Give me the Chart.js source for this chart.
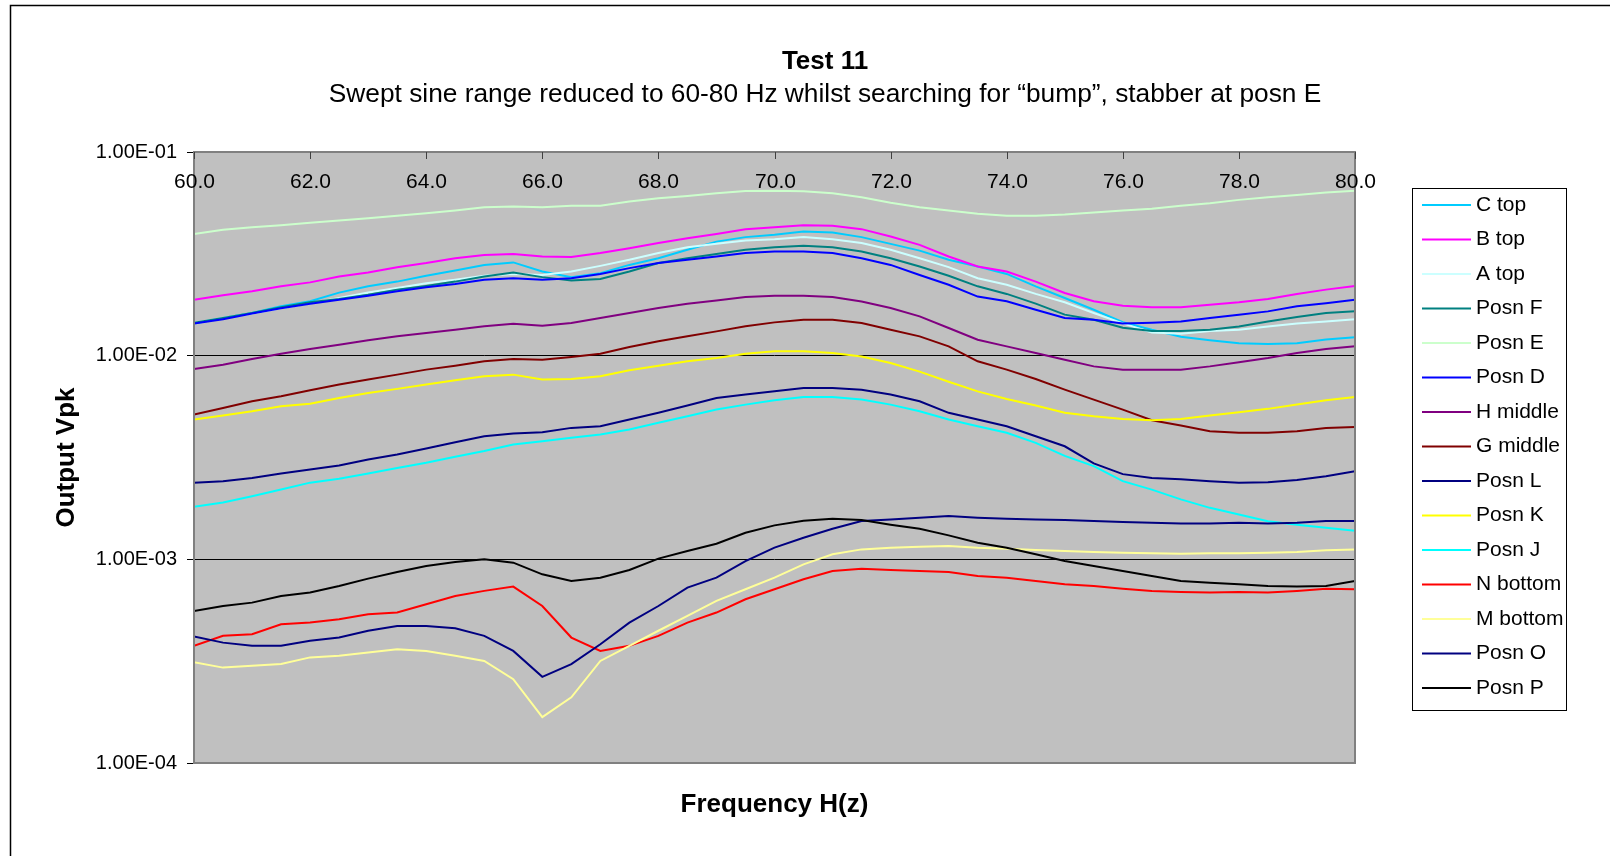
<!DOCTYPE html>
<html>
<head>
<meta charset="utf-8">
<title>Test 11</title>
<script src="https://cdn.jsdelivr.net/npm/chart.js@4.4.1/dist/chart.umd.min.js"></script>
<style>
  html, body { margin: 0; padding: 0; background: #fff; overflow: hidden; }
  #wrap { width: 1610px; height: 856px; }
</style>
</head>
<body>
<div id="wrap"><canvas id="testChart" width="1610" height="856"></canvas></div>
<script>
// Frequency points (Hz)
const freq = [60.0, 60.5, 61.0, 61.5, 62.0, 62.5, 63.0, 63.5, 64.0, 64.5, 65.0, 65.5, 66.0, 66.5, 67.0, 67.5, 68.0, 68.5, 69.0, 69.5, 70.0,
              70.5, 71.0, 71.5, 72.0, 72.5, 73.0, 73.5, 74.0, 74.5, 75.0, 75.5, 76.0, 76.5, 77.0, 77.5, 78.0, 78.5, 79.0, 79.5, 80.0];

// Output Vpk per position
const cTop = [0.0144, 0.0153, 0.0162, 0.0175, 0.0185, 0.0204, 0.0219, 0.0231, 0.0247, 0.0262, 0.0279, 0.0287, 0.0259, 0.0243, 0.0254, 0.0279, 0.0301, 0.0331, 0.0363, 0.0382, 0.0392,
              0.0407, 0.0402, 0.0382, 0.0354, 0.0328, 0.0296, 0.0274, 0.0252, 0.0219, 0.0192, 0.0168, 0.0146, 0.0134, 0.0124, 0.0119, 0.0115, 0.0114, 0.0115, 0.0120, 0.0123];
const bTop = [0.0188, 0.0198, 0.0207, 0.0219, 0.0229, 0.0245, 0.0256, 0.0272, 0.0285, 0.0301, 0.0312, 0.0316, 0.0307, 0.0305, 0.0319, 0.0337, 0.0357, 0.0377, 0.0396, 0.0418, 0.0427,
              0.0437, 0.0434, 0.0418, 0.0385, 0.0350, 0.0307, 0.0274, 0.0259, 0.0231, 0.0203, 0.0185, 0.0176, 0.0173, 0.0173, 0.0178, 0.0183, 0.0190, 0.0201, 0.0211, 0.0220];
const aTop = [0.0145, 0.0153, 0.0161, 0.0171, 0.0181, 0.0192, 0.0204, 0.0215, 0.0227, 0.0236, 0.0247, 0.0252, 0.0249, 0.0259, 0.0276, 0.0296, 0.0319, 0.0341, 0.0354, 0.0368, 0.0373,
              0.0382, 0.0373, 0.0357, 0.0331, 0.0301, 0.0272, 0.0240, 0.0223, 0.0201, 0.0183, 0.0162, 0.0144, 0.0130, 0.0128, 0.0132, 0.0134, 0.0139, 0.0144, 0.0147, 0.0151];
const posnF = [0.0145, 0.0153, 0.0162, 0.0173, 0.0183, 0.0190, 0.0199, 0.0211, 0.0220, 0.0231, 0.0245, 0.0256, 0.0243, 0.0234, 0.0238, 0.0259, 0.0285, 0.0301, 0.0316, 0.0331, 0.0341,
               0.0346, 0.0341, 0.0325, 0.0301, 0.0274, 0.0247, 0.0219, 0.0201, 0.0180, 0.0159, 0.0150, 0.0137, 0.0132, 0.0132, 0.0134, 0.0139, 0.0147, 0.0155, 0.0162, 0.0165];
const posnE = [0.0396, 0.0415, 0.0427, 0.0437, 0.0450, 0.0461, 0.0473, 0.0487, 0.0500, 0.0516, 0.0536, 0.0540, 0.0536, 0.0544, 0.0544, 0.0571, 0.0593, 0.0608, 0.0627, 0.0644, 0.0646,
               0.0641, 0.0627, 0.0599, 0.0564, 0.0536, 0.0516, 0.0497, 0.0487, 0.0487, 0.0493, 0.0504, 0.0516, 0.0526, 0.0544, 0.0560, 0.0582, 0.0599, 0.0615, 0.0632, 0.0646];
const posnD = [0.0144, 0.0151, 0.0161, 0.0171, 0.0180, 0.0188, 0.0197, 0.0207, 0.0217, 0.0225, 0.0236, 0.0240, 0.0236, 0.0240, 0.0252, 0.0269, 0.0285, 0.0296, 0.0307, 0.0319, 0.0325,
               0.0325, 0.0319, 0.0301, 0.0279, 0.0249, 0.0223, 0.0195, 0.0185, 0.0168, 0.0153, 0.0150, 0.0144, 0.0145, 0.0147, 0.0153, 0.0159, 0.0165, 0.0175, 0.0181, 0.0188];
const hMiddle = [0.00860, 0.00903, 0.00963, 0.01023, 0.01078, 0.01132, 0.01189, 0.01244, 0.01291, 0.01341, 0.01393, 0.01435, 0.01403, 0.01446, 0.01530, 0.01619, 0.01713, 0.01798, 0.01867, 0.01939, 0.01968,
                 0.01968, 0.01939, 0.01846, 0.01713, 0.01560, 0.01367, 0.01198, 0.01111, 0.01031, 0.00955, 0.00886, 0.00854, 0.00854, 0.00854, 0.00886, 0.00928, 0.00974, 0.01031, 0.01078, 0.01111];
const gMiddle = [0.00514, 0.00554, 0.00597, 0.00632, 0.00676, 0.00721, 0.00763, 0.00807, 0.00854, 0.00893, 0.00938, 0.00963, 0.00955, 0.00985, 0.01023, 0.01103, 0.01176, 0.01244, 0.01316, 0.01393, 0.01457,
                 0.01501, 0.01501, 0.01446, 0.01341, 0.01244, 0.01111, 0.00938, 0.00854, 0.00768, 0.00681, 0.00608, 0.00543, 0.00482, 0.00454, 0.00426, 0.00418, 0.00418, 0.00426, 0.00442, 0.00447];
const posnL = [0.00238, 0.00242, 0.00251, 0.00264, 0.00276, 0.00289, 0.00309, 0.00327, 0.00350, 0.00376, 0.00402, 0.00415, 0.00421, 0.00442, 0.00450, 0.00486, 0.00524, 0.00569, 0.00620, 0.00644, 0.00669,
               0.00694, 0.00694, 0.00681, 0.00644, 0.00597, 0.00524, 0.00486, 0.00450, 0.00402, 0.00359, 0.00296, 0.00262, 0.00251, 0.00247, 0.00242, 0.00238, 0.00239, 0.00245, 0.00256, 0.00271];
const posnK = [0.00486, 0.00508, 0.00533, 0.00564, 0.00581, 0.00620, 0.00656, 0.00687, 0.00721, 0.00757, 0.00792, 0.00807, 0.00763, 0.00768, 0.00792, 0.00847, 0.00893, 0.00938, 0.00974, 0.01023, 0.01050,
               0.01050, 0.01031, 0.00990, 0.00921, 0.00835, 0.00745, 0.00668, 0.00613, 0.00569, 0.00524, 0.00504, 0.00489, 0.00482, 0.00489, 0.00508, 0.00528, 0.00548, 0.00575, 0.00604, 0.00627];
const posnJ = [0.00181, 0.00190, 0.00204, 0.00220, 0.00238, 0.00249, 0.00264, 0.00281, 0.00298, 0.00319, 0.00340, 0.00366, 0.00380, 0.00395, 0.00410, 0.00434, 0.00468, 0.00504, 0.00544, 0.00575, 0.00604,
               0.00627, 0.00627, 0.00609, 0.00575, 0.00533, 0.00486, 0.00450, 0.00418, 0.00373, 0.00322, 0.00287, 0.00242, 0.00220, 0.00197, 0.00179, 0.00166, 0.00154, 0.00148, 0.00143, 0.00138];
const nBottom = [0.000376, 0.000421, 0.000429, 0.000480, 0.000489, 0.000508, 0.000538, 0.000548, 0.000602, 0.000661, 0.000700, 0.000735, 0.000590, 0.000413, 0.000355, 0.000376, 0.000421, 0.000489, 0.000548, 0.000637, 0.000713,
                 0.000798, 0.000877, 0.000900, 0.000887, 0.000877, 0.000867, 0.000829, 0.000813, 0.000783, 0.000754, 0.000740, 0.000718, 0.000700, 0.000692, 0.000687, 0.000692, 0.000687, 0.000700, 0.000718, 0.000713];
const mBottom = [0.000312, 0.000294, 0.000300, 0.000306, 0.000330, 0.000336, 0.000349, 0.000362, 0.000355, 0.000336, 0.000317, 0.000258, 0.000168, 0.000210, 0.000317, 0.000376, 0.000446, 0.000528, 0.000625, 0.000713, 0.000813,
                 0.000945, 0.001058, 0.001119, 0.001141, 0.001154, 0.001163, 0.001141, 0.001128, 0.001111, 0.001099, 0.001086, 0.001078, 0.001070, 0.001066, 0.001070, 0.001070, 0.001078, 0.001086, 0.001107, 0.001119];
const posnO = [0.000418, 0.000390, 0.000376, 0.000376, 0.000398, 0.000413, 0.000446, 0.000471, 0.000471, 0.000459, 0.000421, 0.000355, 0.000265, 0.000306, 0.000383, 0.000489, 0.000590, 0.000727, 0.000813, 0.000981, 0.001141,
               0.001277, 0.001413, 0.001542, 0.001571, 0.001600, 0.001630, 0.001600, 0.001582, 0.001571, 0.001559, 0.001542, 0.001524, 0.001512, 0.001501, 0.001501, 0.001512, 0.001501, 0.001512, 0.001542, 0.001542];
const posnP = [0.000558, 0.000590, 0.000613, 0.000661, 0.000687, 0.000740, 0.000804, 0.000867, 0.000928, 0.000970, 0.001000, 0.000963, 0.000844, 0.000783, 0.000813, 0.000887, 0.001008, 0.001099, 0.001193, 0.001351, 0.001468,
               0.001547, 0.001582, 0.001559, 0.001479, 0.001413, 0.001311, 0.001207, 0.001141, 0.001058, 0.000981, 0.000928, 0.000877, 0.000829, 0.000783, 0.000768, 0.000754, 0.000740, 0.000735, 0.000740, 0.000783];

// Series names, in legend order
const seriesNames = ['C top', 'B top', 'A top', 'Posn F', 'Posn E', 'Posn D', 'H middle', 'G middle',
                     'Posn L', 'Posn K', 'Posn J', 'N bottom', 'M bottom', 'Posn O', 'Posn P'];
const seriesValues = [cTop, bTop, aTop, posnF, posnE, posnD, hMiddle, gMiddle,
                      posnL, posnK, posnJ, nBottom, mBottom, posnO, posnP];

// Tick labels
const xTickValues = [60, 62, 64, 66, 68, 70, 72, 74, 76, 78, 80];
const xTickLabels = ['60.0', '62.0', '64.0', '66.0', '68.0', '70.0', '72.0', '74.0', '76.0', '78.0', '80.0'];
const yTickValues = [1e-4, 1e-3, 1e-2, 1e-1];
const yTickLabels = ['1.00E-04', '1.00E-03', '1.00E-02', '1.00E-01'];

// Line colours (Excel palette)
const seriesColors = ['#00CCFF', '#FF00FF', '#CCFFFF', '#008080', '#CCFFCC', '#0000FF', '#800080', '#800000',
                      '#000080', '#FFFF00', '#00FFFF', '#FF0000', '#FFFF99', '#000080', '#000000'];

const chartFont = "'Liberation Sans', Arial, Helvetica, sans-serif";
Chart.defaults.font.family = chartFont;
Chart.defaults.color = '#000';

// Background, frame, top tick labels, legend and titles
const excelFrame = {
    id: 'excelFrame',
    beforeDraw(chart) {
        const { ctx, chartArea: a } = chart;
        ctx.save();
        ctx.fillStyle = '#fff';
        ctx.fillRect(0, 0, chart.width, chart.height);
        ctx.strokeStyle = '#000';
        ctx.lineWidth = 1.5;
        ctx.beginPath();
        ctx.moveTo(10.5, chart.height + 5);
        ctx.lineTo(10.5, 5.5);
        ctx.lineTo(chart.width + 5, 5.5);
        ctx.stroke();
        ctx.fillStyle = '#c0c0c0';
        ctx.fillRect(a.left, a.top, a.right - a.left, a.bottom - a.top);
        ctx.restore();
    },
    afterDatasetsDraw(chart) {
        const { ctx, chartArea: a } = chart;
        const xs = chart.scales.x;
        ctx.save();

        // plot border
        ctx.strokeStyle = '#808080';
        ctx.lineWidth = 2;
        ctx.strokeRect(a.left, a.top, a.right - a.left, a.bottom - a.top);

        // x ticks along the top, labels inside the plot
        ctx.strokeStyle = '#404040';
        ctx.lineWidth = 1;
        ctx.fillStyle = '#000';
        ctx.font = '21px ' + chartFont;
        ctx.textAlign = 'center';
        ctx.textBaseline = 'middle';
        xTickValues.forEach((v, i) => {
            const px = Math.round(xs.getPixelForValue(v)) + 0.5;
            ctx.beginPath();
            ctx.moveTo(px, a.top);
            ctx.lineTo(px, a.top + 7);
            ctx.stroke();
            ctx.fillText(xTickLabels[i], px, a.top + 30);
        });

        // legend box
        const lx = 1412, ly = 188, lw = 154, lh = 522;
        ctx.fillStyle = '#fff';
        ctx.fillRect(lx, ly, lw, lh);
        ctx.strokeStyle = '#000';
        ctx.lineWidth = 1;
        ctx.strokeRect(lx + 0.5, ly + 0.5, lw, lh);
        ctx.textAlign = 'left';
        ctx.font = '21px ' + chartFont;
        chart.data.datasets.forEach((ds, i) => {
            const y = 205 + i * 34.5;
            ctx.strokeStyle = ds.borderColor;
            ctx.lineWidth = 2;
            ctx.beginPath();
            ctx.moveTo(1422, y);
            ctx.lineTo(1471, y);
            ctx.stroke();
            ctx.fillStyle = '#000';
            ctx.fillText(ds.label, 1476, y);
        });

        // titles
        ctx.textAlign = 'center';
        ctx.fillStyle = '#000';
        ctx.font = 'bold 26px ' + chartFont;
        ctx.fillText('Test 11', 825, 62);
        ctx.font = '26.3px ' + chartFont;
        ctx.fillText('Swept sine range reduced to 60-80 Hz whilst searching for \u201Cbump\u201D, stabber at posn E', 825, 95);
        ctx.restore();
    }
};

const ctx = document.getElementById('testChart').getContext('2d');
const chart = new Chart(ctx, {
    type: 'line',
    data: {
        datasets: seriesNames.map((name, i) => ({
            label: name,
            data: freq.map((f, j) => ({ x: f, y: seriesValues[i][j] })),
            borderColor: seriesColors[i],
            backgroundColor: seriesColors[i],
            borderWidth: 2,
            pointRadius: 0,
            fill: false,
            tension: 0,
            order: seriesNames.length - i
        }))
    },
    options: {
        responsive: false,
        animation: false,
        devicePixelRatio: 1,
        events: [],
        layout: {
            padding: { top: 152, right: 255, bottom: 0, left: 0 }
        },
        plugins: {
            legend: { display: false },
            title: { display: false },
            tooltip: { enabled: false }
        },
        scales: {
            x: {
                type: 'linear',
                position: 'bottom',
                min: 60,
                max: 80,
                ticks: { display: false },
                grid: { display: false },
                border: { display: false },
                title: {
                    display: true,
                    text: 'Frequency H(z)',
                    color: '#000',
                    font: { size: 26, weight: 'bold' },
                    padding: { top: 0, bottom: 36 }
                },
                afterFit: s => { s.height = 93; }
            },
            y: {
                type: 'logarithmic',
                min: 1e-4,
                max: 1e-1,
                afterBuildTicks: s => { s.ticks = yTickValues.map(v => ({ value: v })); },
                ticks: {
                    callback: (v, i) => yTickLabels[i],
                    font: { size: 20 },
                    color: '#000',
                    padding: 10,
                    autoSkip: false
                },
                grid: { color: '#000', lineWidth: 1, tickLength: 7, drawTicks: true },
                border: { display: false },
                title: {
                    display: true,
                    text: 'Output Vpk',
                    color: '#000',
                    font: { size: 26, weight: 'bold' },
                    padding: { top: 51, bottom: 0 }
                },
                afterFit: s => { s.width = 194; }
            }
        }
    },
    plugins: [excelFrame]
});
</script>
</body>
</html>
